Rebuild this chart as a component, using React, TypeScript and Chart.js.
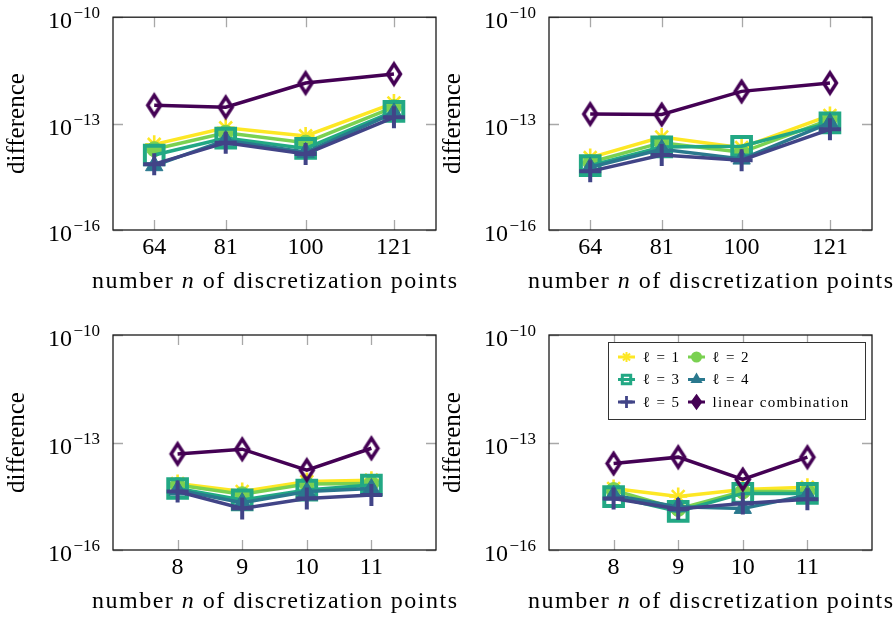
import React, { useEffect, useRef } from 'react';
import { Chart, registerables } from 'chart.js';

Chart.register(...registerables);

// ---------- data ----------
const SERIES_LABELS = ['ℓ = 1', 'ℓ = 2', 'ℓ = 3', 'ℓ = 4', 'ℓ = 5', 'linear combination'];
const SERIES_COLORS = ['#fde725', '#7ad151', '#22a884', '#2a788e', '#414487', '#440154'];

const N_SQUARED = [64, 81, 100, 121];
const N_ROOT = [8, 9, 10, 11];

const Y_TICKS = [1e-16, 1e-13, 1e-10];
const Y_TICK_BASE = '10';
const Y_TICK_EXPONENTS = ['−16', '−13', '−10'];
const Y_TITLE = 'difference';
const X_TITLE_PARTS = ['number ', 'n', ' of discretization points'];

// top-left panel
const TL_L1 = [2.6e-14, 7.6e-14, 4.5e-14, 3.8e-13];
const TL_L2 = [1.9e-14, 5.5e-14, 2.9e-14, 2.9e-13];
const TL_L3 = [1.3e-14, 3.9e-14, 2.0e-14, 2.2e-13];
const TL_L4 = [6.5e-15, 3.4e-14, 1.55e-14, 2.0e-13];
const TL_L5 = [7.2e-15, 2.9e-14, 1.4e-14, 1.5e-13];
const TL_LIN = [3.3e-13, 2.9e-13, 1.4e-12, 2.5e-12];

// top-right panel
const TR_L1 = [1.1e-14, 4.2e-14, 2.1e-14, 1.7e-13];
const TR_L2 = [8.1e-15, 2.9e-14, 1.55e-14, 1.3e-13];
const TR_L3 = [6.5e-15, 2.2e-14, 2.3e-14, 1.05e-13];
const TR_L4 = [5.9e-15, 1.9e-14, 1.0e-14, 1.05e-13];
const TR_L5 = [4.5e-15, 1.3e-14, 9.3e-15, 6.9e-14];
const TR_LIN = [1.86e-13, 1.8e-13, 8.1e-13, 1.4e-12];

// bottom-left panel
const BL_L1 = [7.2e-15, 4.3e-15, 8.1e-15, 8.9e-15];
const BL_L2 = [6.5e-15, 3.6e-15, 6.9e-15, 7.2e-15];
const BL_L3 = [5.2e-15, 2.5e-15, 4.7e-15, 6.5e-15];
const BL_L4 = [4.7e-15, 2.1e-15, 4.3e-15, 5.2e-15];
const BL_L5 = [4.3e-15, 1.45e-15, 2.75e-15, 3.4e-15];
const BL_LIN = [4.8e-14, 6.5e-14, 1.7e-14, 6.9e-14];

// bottom-right panel
const BR_L1 = [5.2e-15, 3.1e-15, 4.9e-15, 5.6e-15];
const BR_L2 = [4.7e-15, 1.4e-15, 4.3e-15, 4.3e-15];
const BR_L3 = [3.1e-15, 1.2e-15, 3.8e-15, 3.8e-15];
const BR_L4 = [3.4e-15, 1.6e-15, 1.45e-15, 3.4e-15];
const BR_L5 = [2.75e-15, 1.4e-15, 2.0e-15, 2.6e-15];
const BR_LIN = [2.6e-14, 3.9e-14, 9.3e-15, 3.9e-14];

// ---------- layout ----------
const FAMILY = '"Liberation Serif", "DejaVu Serif", serif';

type Panel = {
  xs: number[];
  xMin: number;
  xMax: number;
  series: number[][];
  box: { x: number; y: number; w: number; h: number };
  area: { left: number; top: number; right: number; bottom: number };
  legend: boolean;
};

const PANELS: Panel[] = [
  {
    xs: N_SQUARED, xMin: 54.2, xMax: 131,
    series: [TL_L1, TL_L2, TL_L3, TL_L4, TL_L5, TL_LIN],
    box: { x: 0, y: 0, w: 470, h: 308 },
    area: { left: 113, top: 15, right: 436, bottom: 230 },
    legend: false,
  },
  {
    xs: N_SQUARED, xMin: 54.2, xMax: 131,
    series: [TR_L1, TR_L2, TR_L3, TR_L4, TR_L5, TR_LIN],
    box: { x: 436, y: 0, w: 460, h: 308 },
    area: { left: 549, top: 15, right: 872, bottom: 230 },
    legend: false,
  },
  {
    xs: N_ROOT, xMin: 7, xMax: 12,
    series: [BL_L1, BL_L2, BL_L3, BL_L4, BL_L5, BL_LIN],
    box: { x: 0, y: 308, w: 470, h: 309 },
    area: { left: 113, top: 335, right: 436, bottom: 550 },
    legend: false,
  },
  {
    xs: N_ROOT, xMin: 7, xMax: 12,
    series: [BR_L1, BR_L2, BR_L3, BR_L4, BR_L5, BR_LIN],
    box: { x: 436, y: 308, w: 460, h: 309 },
    area: { left: 549, top: 335, right: 872, bottom: 550 },
    legend: true,
  },
];

function makeDiamond(color: string, hw: number, hh: number, lw: number) {
  const c = document.createElement('canvas');
  c.width = Math.ceil(2 * hw + 2 * lw + 2);
  c.height = Math.ceil(2 * hh + 2 * lw + 2);
  const g = c.getContext('2d')!;
  const cx = c.width / 2;
  const cy = c.height / 2;
  g.strokeStyle = color;
  g.lineWidth = lw;
  g.lineJoin = 'miter';
  g.beginPath();
  g.moveTo(cx, cy - hh);
  g.lineTo(cx + hw, cy);
  g.lineTo(cx, cy + hh);
  g.lineTo(cx - hw, cy);
  g.closePath();
  g.stroke();
  return c;
}

function drawLegendMarker(ctx: CanvasRenderingContext2D, i: number, cx: number, cy: number) {
  const color = SERIES_COLORS[i];
  ctx.save();
  ctx.strokeStyle = color;
  ctx.fillStyle = color;
  ctx.lineWidth = 3;
  ctx.beginPath();
  ctx.moveTo(cx - 8.5, cy);
  ctx.lineTo(cx + 8.5, cy);
  ctx.stroke();
  ctx.beginPath();
  if (i === 0) {
    ctx.lineWidth = 2;
    for (let k = 0; k < 4; k++) {
      const a = (k * Math.PI) / 4;
      ctx.moveTo(cx - Math.sin(a) * 5, cy - Math.cos(a) * 5);
      ctx.lineTo(cx + Math.sin(a) * 5, cy + Math.cos(a) * 5);
    }
    ctx.stroke();
  } else if (i === 1) {
    ctx.arc(cx, cy, 5.5, 0, Math.PI * 2);
    ctx.fill();
  } else if (i === 2) {
    ctx.lineWidth = 3;
    ctx.rect(cx - 4.2, cy - 4.2, 8.4, 8.4);
    ctx.stroke();
  } else if (i === 3) {
    const r = 7;
    ctx.moveTo(cx, cy - r);
    ctx.lineTo(cx + r * 0.866, cy + r * 0.5);
    ctx.lineTo(cx - r * 0.866, cy + r * 0.5);
    ctx.closePath();
    ctx.fill();
  } else if (i === 4) {
    ctx.lineWidth = 2.8;
    ctx.moveTo(cx - 6, cy);
    ctx.lineTo(cx + 6, cy);
    ctx.moveTo(cx, cy - 6);
    ctx.lineTo(cx, cy + 6);
    ctx.stroke();
  } else {
    ctx.lineWidth = 1.5;
    ctx.moveTo(cx, cy - 7);
    ctx.lineTo(cx + 5, cy);
    ctx.lineTo(cx, cy + 7);
    ctx.lineTo(cx - 5, cy);
    ctx.closePath();
    ctx.fill();
    ctx.stroke();
  }
  ctx.restore();
}

// draws text char by char with an extra spacing, returns nothing
function spacedRuns(
  ctx: CanvasRenderingContext2D,
  parts: string[],
  fonts: string[],
  targetWidth: number,
  centerX: number,
  baseline: number,
) {
  const glyphs: { ch: string; font: string; w: number }[] = [];
  parts.forEach((s, i) => {
    ctx.font = fonts[i];
    for (const ch of Array.from(s)) glyphs.push({ ch, font: fonts[i], w: ctx.measureText(ch).width });
  });
  const raw = glyphs.reduce((a, g) => a + g.w, 0);
  const ls = Math.max(0, (targetWidth - raw) / Math.max(1, glyphs.length - 1));
  const total = raw + ls * (glyphs.length - 1);
  let x = centerX - total / 2;
  glyphs.forEach((g) => {
    ctx.font = g.font;
    ctx.fillText(g.ch, x, baseline);
    x += g.w + ls;
  });
}

function decorPlugin(panel: Panel) {
  return {
    id: 'decor',
    beforeDatasetsDraw(chart: any) {
      const { ctx, chartArea: ca } = chart;
      const xS = chart.scales.x;
      const yS = chart.scales.y;
      ctx.save();
      ctx.strokeStyle = '#a8a8a8';
      ctx.lineWidth = 1.3;
      ctx.beginPath();
      xS.ticks.forEach((t: any) => {
        const px = Math.round(xS.getPixelForValue(t.value)) + 0.5;
        ctx.moveTo(px, ca.bottom);
        ctx.lineTo(px, ca.bottom - 10);
        ctx.moveTo(px, ca.top);
        ctx.lineTo(px, ca.top + 10);
      });
      yS.ticks.forEach((t: any) => {
        const py = Math.round(yS.getPixelForValue(t.value)) + 0.5;
        ctx.moveTo(ca.left, py);
        ctx.lineTo(ca.left + 10, py);
        ctx.moveTo(ca.right, py);
        ctx.lineTo(ca.right - 10, py);
      });
      ctx.stroke();
      ctx.strokeStyle = '#1a1a1a';
      ctx.lineWidth = 1.3;
      ctx.strokeRect(ca.left, ca.top, ca.right - ca.left, ca.bottom - ca.top);
      ctx.restore();
    },
    afterDraw(chart: any) {
      const { ctx, chartArea: ca } = chart;
      const yS = chart.scales.y;
      ctx.save();
      ctx.fillStyle = '#000';
      ctx.textBaseline = 'alphabetic';
      ctx.textAlign = 'left';
      // y tick labels 10^{exp}
      yS.ticks.forEach((t: any) => {
        const idx = Y_TICKS.findIndex((v) => Math.abs(Math.log10(v) - Math.log10(t.value)) < 1e-6);
        if (idx < 0) return;
        const exp = Y_TICK_EXPONENTS[idx];
        const py = yS.getPixelForValue(t.value);
        ctx.font = `17px ${FAMILY}`;
        const w2 = ctx.measureText(exp).width;
        ctx.font = `24px ${FAMILY}`;
        const w1 = ctx.measureText(Y_TICK_BASE).width;
        const right = ca.left - 13;
        ctx.fillText(Y_TICK_BASE, right - w2 - 1.5 - w1, py + 11);
        ctx.font = `17px ${FAMILY}`;
        ctx.fillText(exp, right - w2, py + 1);
      });
      // x axis title with italic n
      spacedRuns(
        ctx,
        X_TITLE_PARTS,
        [`24px ${FAMILY}`, `italic 24px ${FAMILY}`, `24px ${FAMILY}`],
        365,
        (ca.left + ca.right) / 2,
        ca.bottom + 58,
      );
      // legend
      if (panel.legend) {
        const bw = 257;
        const bh = 77;
        const left = ca.right - 7 - bw;
        const top = ca.top + 7;
        ctx.fillStyle = '#fff';
        ctx.fillRect(left, top, bw, bh);
        ctx.strokeStyle = '#333';
        ctx.lineWidth = 1;
        ctx.strokeRect(left + 0.5, top + 0.5, bw, bh);
        ctx.font = `15px ${FAMILY}`;
        const ref = ctx.measureText(SERIES_LABELS[5]).width;
        const lls = Math.max(0, (137 - ref) / SERIES_LABELS[5].length);
        (ctx as any).letterSpacing = `${lls.toFixed(2)}px`;
        const rowsY = [15, 37.5, 60];
        const colMarker = [18.5, 88.5];
        const colText = [35, 104.5];
        SERIES_LABELS.forEach((lab, i) => {
          const r = Math.floor(i / 2);
          const c = i % 2;
          const cy = top + rowsY[r];
          drawLegendMarker(ctx, i, left + colMarker[c], cy);
          ctx.fillStyle = '#000';
          ctx.fillText(lab, left + colText[c], cy + 4.5);
        });
        (ctx as any).letterSpacing = '0px';
      }
      ctx.restore();
    },
  };
}

function PanelChart({ panel }: { panel: Panel }) {
  const ref = useRef<HTMLCanvasElement>(null);
  useEffect(() => {
    const { box, area } = panel;
    const diamond = makeDiamond(SERIES_COLORS[5], 6.5, 10, 3.5);
    const styles: any[] = ['star', 'circle', 'rect', 'triangle', 'cross', diamond];
    const radii = [9, 7.5, 13.2, 10, 11, 10];
    const pbw = [2.6, 1, 4, 1, 4, 1];
    const datasets = panel.series.map((vals, i) => ({
      label: SERIES_LABELS[i],
      data: panel.xs.map((x, j) => ({ x, y: vals[j] })),
      borderColor: SERIES_COLORS[i],
      backgroundColor: SERIES_COLORS[i],
      borderWidth: 3.5,
      tension: 0,
      pointStyle: styles[i],
      pointRadius: radii[i],
      pointBorderWidth: pbw[i],
      pointBorderColor: SERIES_COLORS[i],
      pointBackgroundColor: i === 2 ? 'rgba(0,0,0,0)' : SERIES_COLORS[i],
      order: 6 - i,
      clip: false as any,
    }));
    const chart = new Chart(ref.current!, {
      type: 'line',
      data: { datasets },
      options: {
        animation: false,
        responsive: false,
        events: [],
        layout: {
          padding: {
            left: 0,
            top: area.top - box.y,
            right: box.x + box.w - area.right,
            bottom: 0,
          },
        },
        plugins: { legend: { display: false }, tooltip: { enabled: false } },
        scales: {
          x: {
            type: 'linear',
            min: panel.xMin,
            max: panel.xMax,
            afterBuildTicks: (s: any) => {
              s.ticks = panel.xs.map((v) => ({ value: v }));
            },
            afterFit: (s: any) => {
              s.height = box.y + box.h - area.bottom;
            },
            grid: { display: false, drawTicks: false },
            border: { display: false },
            ticks: {
              font: { family: FAMILY, size: 24 },
              color: '#000',
              padding: 3,
              maxRotation: 0,
              autoSkip: false,
              callback: (v: any) => String(v),
            },
          },
          y: {
            type: 'logarithmic',
            min: Y_TICKS[0],
            max: Y_TICKS[Y_TICKS.length - 1],
            afterBuildTicks: (s: any) => {
              s.ticks = Y_TICKS.map((v) => ({ value: v }));
            },
            afterFit: (s: any) => {
              s.width = area.left - box.x;
            },
            grid: { display: false, drawTicks: false },
            border: { display: false },
            ticks: { display: false },
            title: {
              display: true,
              text: Y_TITLE,
              color: '#000',
              font: { family: FAMILY, size: 25 },
              padding: { top: 2, bottom: 0 },
            },
          },
        },
      } as any,
      plugins: [decorPlugin(panel)],
    });
    return () => chart.destroy();
  }, [panel]);
  return (
    <div style={{ position: 'absolute', left: panel.box.x, top: panel.box.y, width: panel.box.w, height: panel.box.h }}>
      <canvas ref={ref} width={panel.box.w} height={panel.box.h} style={{ display: 'block' }} />
    </div>
  );
}

export default function App() {
  return (
    <div style={{ position: 'absolute', left: 0, top: 0, width: 896, height: 617, background: '#fff' }}>
      {PANELS.map((p, i) => (
        <PanelChart key={i} panel={p} />
      ))}
    </div>
  );
}
